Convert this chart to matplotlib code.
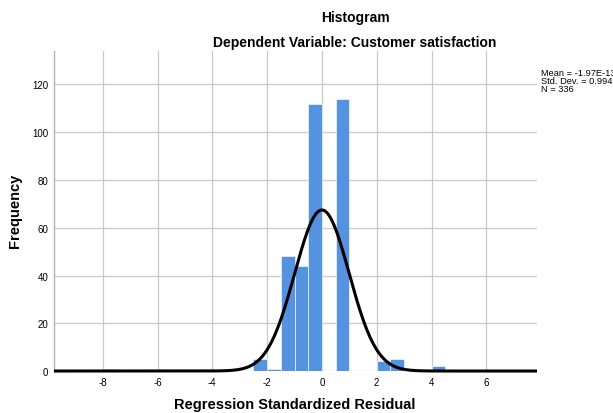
import numpy as np
import matplotlib
matplotlib.use('Agg')
import matplotlib.pyplot as plt

plt.rcParams['font.family'] = ['Liberation Sans', 'DejaVu Sans']
plt.rcParams['axes.unicode_minus'] = False

# histogram bins (left edges, width 0.5) and counts
bin_left = [-8.0, -2.5, -2.0, -1.5, -1.0, -0.5, 0.5, 2.0, 2.5, 4.0]
counts = [1, 5, 1, 48, 44, 112, 114, 4, 5, 2]
bin_width = 0.5

mean = -1.97e-13
std = 0.994
n = 336

fig = plt.figure(figsize=(6.13, 4.14), dpi=100)
ax = fig.add_axes([0.0881, 0.1014, 0.7879, 0.7729])

ax.bar(bin_left, counts, width=bin_width, align='edge', color='#5592e0',
       edgecolor='#e6eefa', linewidth=0.6, zorder=2)

xs = np.linspace(-9.78, 7.85, 600)
ys = n * bin_width / (std * np.sqrt(2 * np.pi)) * np.exp(-0.5 * ((xs - mean) / std) ** 2)
ax.plot(xs, ys, color='black', linewidth=2.2, zorder=3, clip_on=False,
        solid_capstyle='butt')

ax.set_xlim(-9.78, 7.85)
ax.set_ylim(0, 134)
ax.set_xticks(range(-8, 7, 2))
ax.set_yticks(range(0, 121, 20))
ax.tick_params(length=0, labelsize=7, pad=4)
ax.grid(True, color='#c8c8c8', linewidth=0.9, zorder=0)
ax.set_axisbelow(True)
for s in ['top', 'right', 'bottom']:
    ax.spines[s].set_visible(False)
ax.spines['left'].set_color('#b4b4b4')
ax.spines['left'].set_linewidth(1.0)

fig.text(295 / 613, 1 - 405 / 414, 'Regression Standardized Residual',
         ha='center', va='center', fontsize=10.5, fontweight='bold')
fig.text(15 / 613, 1 - 211 / 414, 'Frequency', rotation=90,
         ha='center', va='center', fontsize=10.5, fontweight='bold')

fig.text(355 / 613, 1 - 18 / 414, 'Histogram', ha='center', va='center',
         fontsize=10, fontweight='bold')
fig.text(355 / 613, 1 - 43 / 414, 'Dependent Variable: Customer satisfaction',
         ha='center', va='center', fontsize=10, fontweight='bold')
fig.text(541 / 613, 1 - 73 / 414, 'Mean = -1.97E-13', fontsize=6.7, va='center')
fig.text(541 / 613, 1 - 81.5 / 414, 'Std. Dev. = 0.994', fontsize=6.7, va='center')
fig.text(541 / 613, 1 - 90 / 414, 'N = 336', fontsize=6.7, va='center')

fig.savefig('out.png', dpi=100)
